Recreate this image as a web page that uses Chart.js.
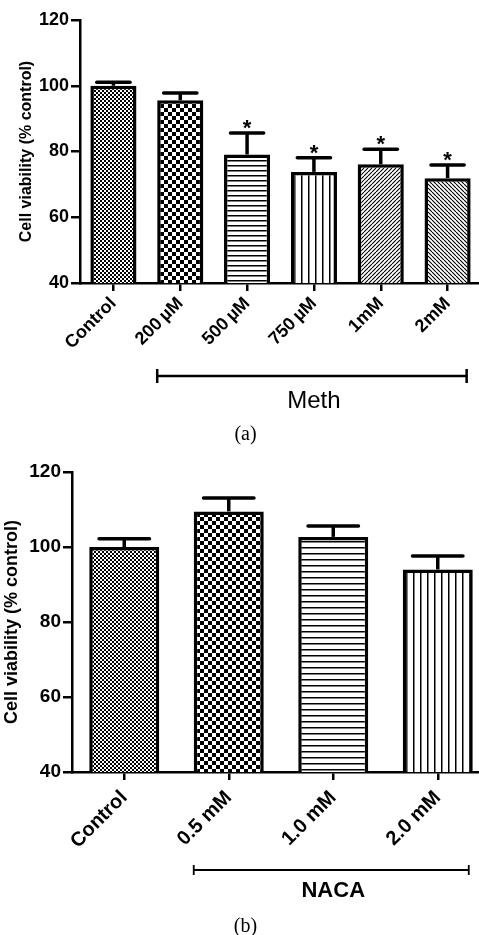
<!DOCTYPE html>
<html>
<head>
<meta charset="utf-8">
<script src="https://cdn.jsdelivr.net/npm/chart.js@4.4.1/dist/chart.umd.min.js"></script>
<style>
html, body { margin: 0; padding: 0; background: #fff; overflow: hidden; width: 479px; height: 935px; }
.panel { position: absolute; left: 0; }
.cap { position: absolute; left: 0; width: 491px; text-align: center; font-family: "Liberation Serif", "Times New Roman", serif; font-size: 20px; color: #000; line-height: 20px; }
</style>
</head>
<body>
<div class="panel" style="top:0"><canvas id="chartA" width="481" height="445"></canvas></div>
<div class="cap" style="top:423px">(a)</div>
<div class="panel" style="top:445px"><canvas id="chartB" width="490" height="490"></canvas></div>
<div class="cap" style="top:915px">(b)</div>

<script>
// panel (a) - Meth
var labelsA = ['Control', '200\u2009\u00b5M', '500\u2009\u00b5M', '750\u2009\u00b5M', '1mM', '2mM'];
var meansA = [100, 95.6, 79.1, 73.8, 76.1, 71.9];
var semA = [1.1, 2.2, 6.5, 4.3, 4.6, 4.0];
var starsA = [false, false, true, true, true, true];

// panel (b) - NACA
var labelsB = ['Control', '0.5 mM', '1.0 mM', '2.0 mM'];
var meansB = [100, 109.5, 102.7, 94.0];
var semB = [2.2, 3.6, 2.9, 3.6];

var yTicks = [40, 60, 80, 100, 120];

var FONT = '"Liberation Sans", Arial, sans-serif';

// fill patterns for bars
function makePattern(kind, n) {
    var c = document.createElement('canvas');
    var size = kind === 'checker' ? n * 2 : n;
    c.width = size;
    c.height = size;
    var g = c.getContext('2d');
    g.fillStyle = '#fff';
    g.fillRect(0, 0, size, size);
    g.fillStyle = '#000';
    g.strokeStyle = '#000';
    if (kind === 'checker') {
        g.fillRect(0, 0, n, n);
        g.fillRect(n, n, n, n);
    } else if (kind === 'hlines') {
        g.fillRect(0, 0, size, 1.5);
    } else if (kind === 'vlines') {
        g.fillRect(0, 0, 1.5, size);
    } else if (kind === 'diagUp' || kind === 'diagDown') {
        g.lineWidth = 1.1;
        g.beginPath();
        for (var k = -1; k <= 1; k++) {
            if (kind === 'diagUp') {
                g.moveTo(k * size, size);
                g.lineTo(k * size + size, 0);
            } else {
                g.moveTo(k * size, 0);
                g.lineTo(k * size + size, size);
            }
        }
        g.stroke();
    }
    return g.createPattern(c, 'repeat');
}

function errorBars(errs, stars) {
    return {
        id: 'errorBars',
        afterDatasetsDraw: function (chart) {
            var ctx = chart.ctx;
            var y = chart.scales.y;
            var vals = chart.data.datasets[0].data;
            ctx.save();
            ctx.strokeStyle = '#000';
            ctx.fillStyle = '#000';
            chart.getDatasetMeta(0).data.forEach(function (bar, i) {
                var top = y.getPixelForValue(vals[i] + errs[i]);
                var half = bar.width * 0.36;
                ctx.lineWidth = 3.5;
                ctx.lineCap = 'butt';
                ctx.beginPath();
                ctx.moveTo(bar.x, bar.y);
                ctx.lineTo(bar.x, top);
                ctx.stroke();
                ctx.lineCap = 'round';
                ctx.lineWidth = 3.5;
                ctx.beginPath();
                ctx.moveTo(bar.x - half, top);
                ctx.lineTo(bar.x + half, top);
                ctx.stroke();
                if (stars && stars[i]) {
                    ctx.font = 'bold 22px ' + FONT;
                    ctx.textAlign = 'center';
                    ctx.textBaseline = 'alphabetic';
                    ctx.fillText('*', bar.x, top + 2);
                }
            });
            ctx.restore();
        }
    };
}

function groupBracket(from, to, text, font, lineY, textY, lineW, capH) {
    return {
        id: 'groupBracket',
        afterDraw: function (chart) {
            var ctx = chart.ctx;
            var bars = chart.getDatasetMeta(0).data;
            var x1 = bars[from].x - bars[from].width / 2;
            var x2 = bars[to].x + bars[to].width / 2 - 4;
            ctx.save();
            ctx.strokeStyle = '#000';
            ctx.lineWidth = lineW;
            ctx.beginPath();
            ctx.moveTo(x1, lineY);
            ctx.lineTo(x2, lineY);
            ctx.moveTo(x1, lineY - capH);
            ctx.lineTo(x1, lineY + capH);
            ctx.moveTo(x2, lineY - capH);
            ctx.lineTo(x2, lineY + capH);
            ctx.stroke();
            ctx.fillStyle = '#000';
            ctx.font = font;
            ctx.textAlign = 'center';
            ctx.textBaseline = 'alphabetic';
            ctx.fillText(text, (x1 + x2) / 2 + 2, textY);
            ctx.restore();
        }
    };
}

function makeChart(id, labels, values, fills, cfg, plugins) {
    var ctx = document.getElementById(id).getContext('2d');
    return new Chart(ctx, {
        type: 'bar',
        data: {
            labels: labels,
            datasets: [{
                data: values,
                backgroundColor: fills,
                borderColor: '#000',
                borderWidth: 3.5,
                borderSkipped: false,
                barPercentage: cfg.barPct,
                categoryPercentage: 1
            }]
        },
        options: {
            responsive: false,
            animation: false,
            layout: { padding: { top: cfg.top, left: 0, right: 0, bottom: 0 } },
            plugins: { legend: { display: false }, tooltip: { enabled: false } },
            scales: {
                x: {
                    afterFit: function (s) { s.height = cfg.xHeight; },
                    grid: { display: true, drawOnChartArea: false, drawTicks: true, offset: false, tickLength: 8, color: '#000', lineWidth: 2.5 },
                    border: { display: true, color: '#000', width: 2.5 },
                    ticks: {
                        autoSkip: false, maxRotation: 45, minRotation: 45, padding: cfg.xPad,
                        color: '#000', font: { family: FONT, size: cfg.xFont, weight: 'bold' }
                    }
                },
                y: {
                    min: 40, max: 120,
                    afterFit: function (s) { s.width = cfg.yWidth; },
                    afterBuildTicks: function (s) { s.ticks = yTicks.map(function (v) { return { value: v }; }); },
                    grid: { display: true, drawOnChartArea: false, drawTicks: true, tickLength: 9, color: '#000', lineWidth: 2.5 },
                    border: { display: true, color: '#000', width: 2.5 },
                    ticks: { padding: 2, color: '#000', font: { family: FONT, size: cfg.yFont, weight: 'bold' } },
                    title: {
                        display: true, text: 'Cell viability (% control)', color: '#000',
                        font: { family: FONT, size: cfg.titleSize, weight: 'bold' },
                        padding: { top: cfg.titlePad, bottom: 0 }
                    }
                }
            }
        },
        plugins: plugins
    });
}

var fillsA = [
    makePattern('checker', 2),
    makePattern('checker', 4),
    makePattern('hlines', 5),
    makePattern('vlines', 7),
    makePattern('diagUp', 4),
    makePattern('diagDown', 4)
];
var fillsB = [
    makePattern('checker', 2),
    makePattern('checker', 4),
    makePattern('hlines', 6),
    makePattern('vlines', 7)
];

makeChart('chartA', labelsA, meansA, fillsA,
    { barPct: 0.69, top: 20, xHeight: 162, yWidth: 80, titleSize: 16, titlePad: 17, xFont: 18, yFont: 18, xPad: 2 },
    [errorBars(semA, starsA), groupBracket(1, 5, 'Meth', '24px ' + FONT, 376, 408, 2.5, 7)]);

makeChart('chartB', labelsB, meansB, fillsB,
    { barPct: 0.67, top: 27, xHeight: 163, yWidth: 72, titleSize: 18, titlePad: 1, xFont: 20, yFont: 19, xPad: 6 },
    [errorBars(semB, null), groupBracket(1, 3, 'NACA', 'bold 22px ' + FONT, 425, 452, 1.8, 5)]);
</script>
</body>
</html>
